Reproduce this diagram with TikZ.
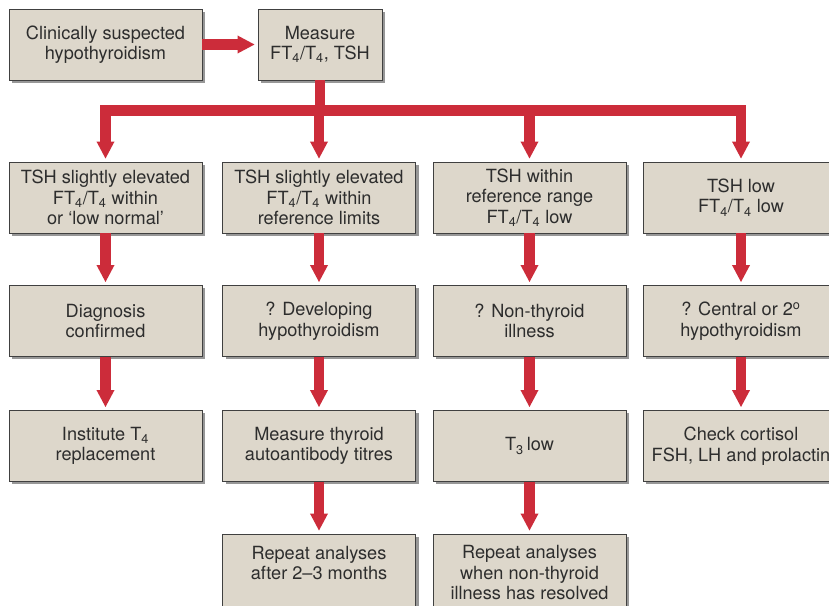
\documentclass[tikz,border=0pt]{standalone}
\usepackage{fontspec}
\setmainfont{TeX Gyre Heros}
\usetikzlibrary{arrows.meta,shadows}
\definecolor{boxfill}{RGB}{221,215,203}
\definecolor{arrowred}{RGB}{204,44,58}
\definecolor{boxtext}{RGB}{45,45,45}
\tikzset{
    box/.style={
        draw=black!75, line width=0.8pt, fill=boxfill, text=boxtext,
        align=center, inner sep=0pt,
        minimum width=5.79cm, minimum height=2.13cm,
        font=\fontsize{15.5}{17.5}\selectfont,
        drop shadow={shadow xshift=0.1cm, shadow yshift=-0.08cm, fill=black!45, opacity=0.9}
    },
    red line/.style={
        draw=arrowred, line width=0.32cm, line join=miter
    },
    red arrow/.style={
        red line, % same thick red band, with a wide head
        -{Triangle[width=0.5cm,length=0.52cm]}, shorten >=0.08cm
    }
}

\begin{document}
\begin{tikzpicture}[x=0.03cm, y=-0.03cm]
\useasboundingbox (0,0) rectangle (829,605);
\clip (0,0) rectangle (829,605);
\fill[white] (0,0) rectangle (829,605);
% top row
\node[box] (C) at (105.5,44.5) {Clinically suspected\\hypothyroidism};
\node[box, minimum width=3.72cm] (M) at (320,44.5) {Measure\\FT\textsubscript{4}/T\textsubscript{4}, TSH};
% results
\node[box] (T1) at (105.5,197.5) {TSH slightly elevated\\FT\textsubscript{4}/T\textsubscript{4} within\\or `low normal'};
\node[box] (T2) at (319,197.5) {TSH slightly elevated\\FT\textsubscript{4}/T\textsubscript{4} within\\reference limits};
\node[box] (T3) at (529.5,197.5) {TSH within\\reference range\\FT\textsubscript{4}/T\textsubscript{4} low};
\node[box, minimum width=5.88cm] (T4) at (741,197.5) {TSH low\\FT\textsubscript{4}/T\textsubscript{4} low};
% interpretation
\node[box] (Q1) at (105.5,321) {Diagnosis\\confirmed};
\node[box] (Q2) at (319,321) {? Developing\\hypothyroidism};
\node[box] (Q3) at (529.5,321) {? Non-thyroid\\illness};
\node[box, minimum width=5.88cm] (Q4) at (741,321) {? Central or 2\textsuperscript{o}\\hypothyroidism};
% action
\node[box] (R1) at (105.5,446) {Institute T\textsubscript{4}\\replacement};
\node[box] (R2) at (319,446) {Measure thyroid\\autoantibody titres};
\node[box] (R3) at (529.5,446) {T\textsubscript{3}\,low};
\node[box, minimum width=5.88cm] (R4) at (741,446) {Check cortisol\\FSH, LH and prolactin};
% follow up
\node[box, minimum height=2.34cm] (F2) at (319,573) {Repeat analyses\\after 2--3 months\\\mbox{}};
\node[box, minimum height=2.34cm] (F3) at (529.5,573) {Repeat analyses\\when non-thyroid\\illness has resolved};
\coordinate (J) at (320,110.5);
\draw[red arrow] (C) -- (M);
\draw[red line] (M.south) -- (J);
\draw[red arrow] (J) -| (T1.north);
\draw[red arrow] (J) -| (T2.north);
\draw[red arrow] (J) -| (T3.north);
\draw[red arrow] (J) -| (T4.north);
\draw[red arrow] (T1) -- (Q1);
\draw[red arrow] (T2) -- (Q2);
\draw[red arrow] (T3) -- (Q3);
\draw[red arrow] (T4) -- (Q4);
\draw[red arrow] (Q1) -- (R1);
\draw[red arrow] (Q2) -- (R2);
\draw[red arrow] (Q3) -- (R3);
\draw[red arrow] (Q4) -- (R4);
\draw[red arrow] (R2) -- (F2);
\draw[red arrow] (R3) -- (F3);
\end{tikzpicture}
\end{document}
